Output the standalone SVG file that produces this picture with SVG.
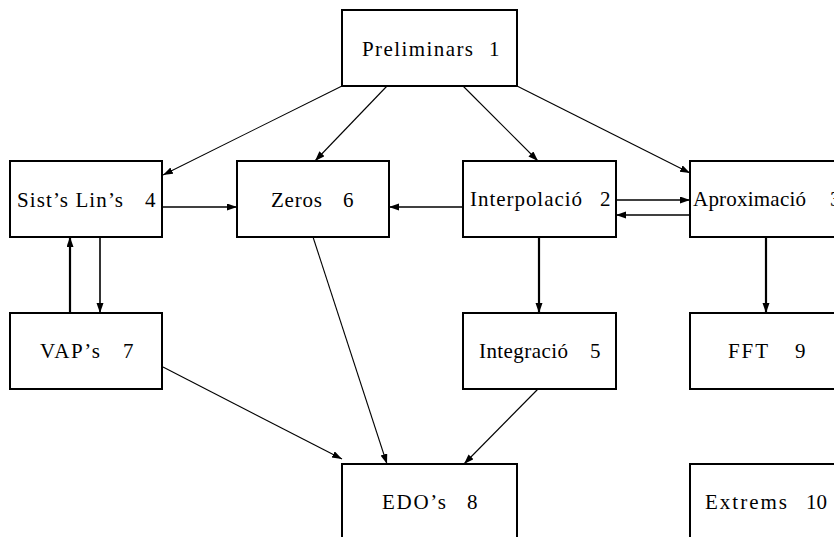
<svg xmlns="http://www.w3.org/2000/svg" width="834" height="537" viewBox="0 0 834 537">
<style>
.box{fill:#fff;stroke:#000;stroke-width:2}
.lbl{font-family:"Liberation Serif","Times New Roman",serif;font-size:21px;fill:#000}
.c{stroke:#000;stroke-width:1.1;fill:none}
.h{stroke-width:1.6}
.t{stroke-width:2.2}
</style>
<defs>
<marker id="ah" markerUnits="userSpaceOnUse" markerWidth="10" markerHeight="8" refX="10" refY="3.5" orient="auto">
<path d="M0,0 L10,3.5 L0,7 z" fill="#000"/>
</marker>
</defs>
<rect width="834" height="537" fill="#fff"/>
<g id="connectors">
<path class="c" d="M342,86 L163,175" marker-end="url(#ah)"/>
<path class="c" d="M387,86 L315,161" marker-end="url(#ah)"/>
<path class="c" d="M463,86 L538,161" marker-end="url(#ah)"/>
<path class="c" d="M517,86 L690,173" marker-end="url(#ah)"/>
<path class="c h" d="M162,207 L237,207" marker-end="url(#ah)"/>
<path class="c h" d="M463,207 L389,207" marker-end="url(#ah)"/>
<path class="c h" d="M616,200 L690,200" marker-end="url(#ah)"/>
<path class="c h" d="M690,215 L616,215" marker-end="url(#ah)"/>
<path class="c t" d="M70,313 L70,237" marker-end="url(#ah)"/>
<path class="c h" d="M100,237 L100,313" marker-end="url(#ah)"/>
<path class="c t" d="M539,237 L539,313" marker-end="url(#ah)"/>
<path class="c t" d="M766,237 L766,313" marker-end="url(#ah)"/>
<path class="c" d="M163,367 L342,459" marker-end="url(#ah)"/>
<path class="c" d="M313,237 L387,464" marker-end="url(#ah)"/>
<path class="c" d="M538,389 L464,464" marker-end="url(#ah)"/>
</g>
<g id="n1"><rect class="box" x="342" y="10" width="175" height="76"/>
<text class="lbl" y="56"><tspan x="362" textLength="111">Preliminars</tspan><tspan x="489" textLength="8">1</tspan></text></g>
<g id="n4"><rect class="box" x="10" y="161" width="152" height="76"/>
<text class="lbl" y="207"><tspan x="17" textLength="106">Sist’s Lin’s</tspan><tspan x="145" textLength="9">4</tspan></text></g>
<g id="n6"><rect class="box" x="237" y="161" width="152" height="76"/>
<text class="lbl" y="207"><tspan x="271" textLength="51">Zeros</tspan><tspan x="343" textLength="9">6</tspan></text></g>
<g id="n2"><rect class="box" x="463" y="161" width="153" height="76"/>
<text class="lbl" y="206"><tspan x="470" textLength="112">Interpolació</tspan><tspan x="600" textLength="9">2</tspan></text></g>
<g id="n3"><rect class="box" x="690" y="161" width="152" height="76"/>
<text class="lbl" y="206"><tspan x="693" textLength="113">Aproximació</tspan><tspan x="830" textLength="9">3</tspan></text></g>
<g id="n7"><rect class="box" x="10" y="313" width="152" height="76"/>
<text class="lbl" y="358"><tspan x="40" textLength="60">VAP’s</tspan><tspan x="123" textLength="8">7</tspan></text></g>
<g id="n5"><rect class="box" x="463" y="313" width="153" height="76"/>
<text class="lbl" y="358"><tspan x="479" textLength="89">Integració</tspan><tspan x="590" textLength="9">5</tspan></text></g>
<g id="n9"><rect class="box" x="690" y="313" width="152" height="76"/>
<text class="lbl" y="358"><tspan x="728" textLength="40">FFT</tspan><tspan x="795" textLength="9">9</tspan></text></g>
<g id="n8"><rect class="box" x="342" y="464" width="175" height="80"/>
<text class="lbl" y="509"><tspan x="382" textLength="64">EDO’s</tspan><tspan x="467" textLength="9">8</tspan></text></g>
<g id="n10"><rect class="box" x="690" y="464" width="152" height="80"/>
<text class="lbl" y="509"><tspan x="705" textLength="82">Extrems</tspan><tspan x="806">10</tspan></text></g>
</svg>
